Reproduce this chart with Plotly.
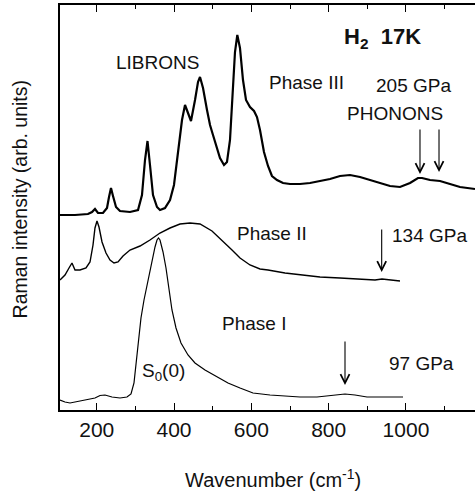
import plotly.graph_objects as go

# ---- data (wavenumber in cm^-1, intensity in arbitrary stacked units) ----
phase3_x = [105, 143.8, 177.4, 187.8, 195.5, 203.3, 216.2, 226.6, 231.8, 236.9, 242.1, 249.9,
            260.2, 286.1, 306.8, 317.1, 324.9, 331.4, 337.8, 345.6, 355.9, 363.7, 376.6, 389.6,
            399.9, 410.3, 420.6, 428.4, 436.2, 443.9, 454.3, 462.0, 467.2, 475.0, 485.3, 493.1,
            500.8, 511.2, 518.9, 529.3, 537.0, 544.8, 552.6, 557.7, 563.7, 570.6, 578.4, 586.2,
            596.5, 606.9, 614.6, 622.4, 632.7, 643.1, 653.4, 666.4, 681.9, 700.0, 725.9, 751.8,
            777.6, 803.5, 829.4, 855.2, 881.1, 907.0, 932.8, 958.7, 984.6, 1010.5, 1031.1,
            1041.5, 1062.2, 1088.1, 1113.9, 1139.8, 1178.6]
phase3_y = [195, 195, 196, 198, 201, 197, 197, 202, 213, 222, 214, 203,
            199, 198, 200, 215, 250, 269, 245, 215, 203, 200, 202, 210,
            225, 255, 290, 305, 297, 289, 310, 328, 333, 322, 300, 285,
            275, 262, 252, 245, 248, 270, 320, 358, 375, 362, 330, 310,
            303, 299, 293, 280, 258, 244, 234, 230, 227, 226, 226, 227,
            229, 231, 234, 235, 233, 230, 227, 224, 223, 227, 232,
            232, 230, 229, 226, 223, 221]

phase2_x = [105, 117.9, 128.3, 136.0, 143.8, 156.7, 172.3, 182.6, 190.4, 195.5, 200.7, 205.9,
            213.7, 224.0, 234.4, 244.7, 255.1, 268.0, 286.1, 312.0, 337.8, 363.7, 389.6, 415.4,
            441.3, 467.2, 498.2, 524.1, 550.0, 570.7, 596.5, 622.4, 643.1, 687.1, 731.0, 777.6,
            829.4, 881.1, 919.9, 938.0, 958.7, 984.6]
phase2_y = [130, 135, 142, 147, 140, 140, 142, 148, 165, 182, 189, 183,
            168, 157, 150, 147, 148, 154, 160, 164, 170, 177, 182, 186,
            187, 186, 179, 170, 160, 152, 145, 141, 140, 137, 135, 133,
            132, 131, 130, 131, 130, 129]

phase1_x = [105, 117.9, 130.9, 156.7, 177.4, 195.5, 208.5, 221.4, 239.5, 260.2, 278.3, 288.7,
            296.4, 301.6, 306.8, 314.5, 322.3, 330.1, 337.8, 345.6, 350.8, 355.9, 359.8, 363.7,
            371.5, 379.2, 387.0, 394.7, 405.1, 418.0, 436.1, 454.2, 480.1, 506.0, 539.6, 570.7,
            604.3, 648.3, 692.2, 725.9, 769.9, 803.5, 842.3, 868.2, 899.2, 932.8, 992.4]
phase1_y = [10, 8, 7, 9, 10, 12, 14.5, 15, 13, 12, 13, 16,
            27, 44, 65, 92, 110, 125, 139, 152, 163, 170, 172, 170,
            158, 142, 120, 100, 82, 67, 55, 47, 40, 34, 27, 22,
            17, 15, 14, 13, 13, 14.5, 16, 15, 13, 13, 13]

# arrows marking phonons: x, top, bottom
arrow_x = [1036.3, 1085.5, 937.2, 842.3]
arrow_top = [282, 282, 182, 70]
arrow_bottom = [236, 238, 138, 25]

# text labels: text, x, y
labels = [
    ("LIBRONS", 358.5, 348),
    ("Phase III", 741.4, 328),
    ("205 GPa", 1019.5, 325),
    ("PHONONS", 971.6, 297),
    ("Phase II", 654.7, 177),
    ("134 GPa", 1061.0, 175),
    ("Phase I", 605.6, 87),
    ("97 GPa", 1039.0, 47),
    ("S<sub>0</sub>(0)", 372.8, 38),
]
title_label = ("<b>H<sub>2</sub>  17K</b>", 938, 372)

x_ticks = [200, 400, 600, 800, 1000]
x_range = [105, 1178.6]
y_range = [0, 405]

FONT = "Liberation Sans, Arial, Helvetica, sans-serif"

fig = go.Figure()
for xs, ys, w in [(phase3_x, phase3_y, 2.2), (phase2_x, phase2_y, 1.4), (phase1_x, phase1_y, 1.2)]:
    fig.add_trace(go.Scatter(x=xs, y=ys, mode="lines",
                             line=dict(color="black", width=w), showlegend=False,
                             hoverinfo="skip"))

annotations = []
for ax_, top, bot in zip(arrow_x, arrow_top, arrow_bottom):
    annotations.append(dict(x=ax_, y=bot, ax=ax_, ay=top, xref="x", yref="y",
                            axref="x", ayref="y", showarrow=True, arrowhead=5,
                            arrowsize=1.6, arrowwidth=1.1, arrowcolor="black", text=""))
for t, x, y in labels:
    annotations.append(dict(x=x, y=y, xref="x", yref="y", text=t, showarrow=False,
                            xanchor="center", yanchor="middle",
                            font=dict(family=FONT, size=19, color="#111")))
annotations.append(dict(x=title_label[1], y=title_label[2], xref="x", yref="y",
                        text=title_label[0], showarrow=False, xanchor="center", yanchor="middle",
                        font=dict(family=FONT, size=22, color="#111")))
annotations.append(dict(x=-0.0964, y=0.52, xref="paper", yref="paper",
                        xanchor="center", yanchor="middle",
                        text="Raman intensity (arb. units)", textangle=-90, showarrow=False,
                        font=dict(family=FONT, size=19.5, color="#111")))
annotations.append(dict(x=0.513, y=-0.17, xref="paper", yref="paper",
                        xanchor="center", yanchor="middle",
                        text="Wavenumber (cm<sup>-1</sup>)", showarrow=False,
                        font=dict(family=FONT, size=20, color="#111")))

fig.update_layout(
    width=475, height=492,
    margin=dict(l=60, r=0, t=5, b=82),
    paper_bgcolor="white", plot_bgcolor="white",
    annotations=annotations,
    xaxis=dict(range=x_range, tickvals=x_ticks, ticks="inside", ticklen=7, tickwidth=1.2,
               tickcolor="black", showline=True, linecolor="black", linewidth=1.5,
               mirror="ticks", showgrid=False, zeroline=False,
               ticklabelstandoff=0,
               tickfont=dict(family=FONT, size=21, color="#111")),
    yaxis=dict(range=y_range, showticklabels=False, ticks="", showline=True,
               linecolor="black", linewidth=1.5, mirror=False, showgrid=False,
               zeroline=False),
)
fig.update_xaxes(minor=dict(dtick=100, tick0=100, ticks="inside", ticklen=4, tickwidth=1,
                            tickcolor="black", showgrid=False))

fig.write_html("out.html")
